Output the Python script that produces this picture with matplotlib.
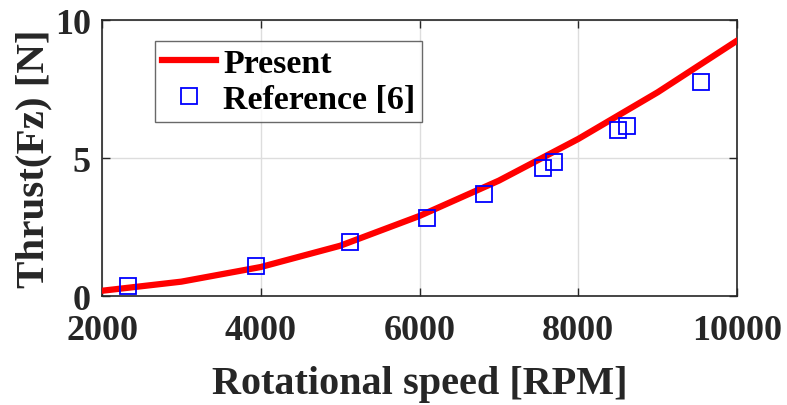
import matplotlib.pyplot as plt

# model prediction, thrust vs rotational speed
rpm_present = [2000, 3000, 4000, 5000, 6000, 7000, 8000, 9000, 10000]
fz_present = [0.19, 0.52, 1.05, 1.82, 2.90, 4.18, 5.69, 7.38, 9.25]

# measured values from reference [6]
rpm_ref = [2331, 3940, 5128, 6091, 6809, 7560, 7699, 8505, 8618, 9546]
fz_ref = [0.35, 1.10, 1.97, 2.81, 3.68, 4.63, 4.84, 6.03, 6.17, 7.77]

plt.rcParams['font.family'] = ['Liberation Serif', 'DejaVu Serif']
plt.rcParams['font.weight'] = 'bold'

fig = plt.figure(figsize=(7.87, 4.06), dpi=100)
ax = fig.add_axes([102 / 787, 1 - 297 / 406, 635 / 787, 276 / 406])

ax.plot(rpm_present, fz_present, color='red', lw=4.5, label='Present', zorder=3)
ax.plot(rpm_ref, fz_ref, ls='none', marker='s', ms=11, mfc='none', mec='blue',
        mew=1.3, label='Reference [6]', zorder=4)

ax.set_xlim(2000, 10000)
ax.set_ylim(0, 10)
ax.set_xticks([2000, 4000, 6000, 8000, 10000])
ax.set_yticks([0, 5, 10])
ax.grid(True, color='#dddddd', lw=1)
ax.set_axisbelow(True)
ax.tick_params(direction='in', top=True, right=True, length=6, width=1,
               labelsize=26, colors='#262626')
ax.tick_params(axis='x', pad=13)
ax.tick_params(axis='y', pad=8)
for s in ax.spines.values():
    s.set_color('#262626')
    s.set_linewidth(1.2)

ax.set_xlabel('Rotational speed [RPM]', fontsize=29, fontweight='bold', color='#262626', labelpad=13)
ax.set_ylabel('Thrust(Fz) [N]', fontsize=29.5, fontweight='bold', color='#262626', labelpad=2)

leg = ax.legend(loc='upper left', bbox_to_anchor=(53 / 635, 255 / 276), fontsize=24.5,
                frameon=True, fancybox=False, edgecolor='#444444',
                handlelength=1.6, handletextpad=0.2, borderpad=0.2,
                labelspacing=0.15, borderaxespad=0)
leg.get_frame().set_linewidth(1.0)
for t in leg.get_texts():
    t.set_fontweight('bold')

fig.savefig('out.png', dpi=100)
